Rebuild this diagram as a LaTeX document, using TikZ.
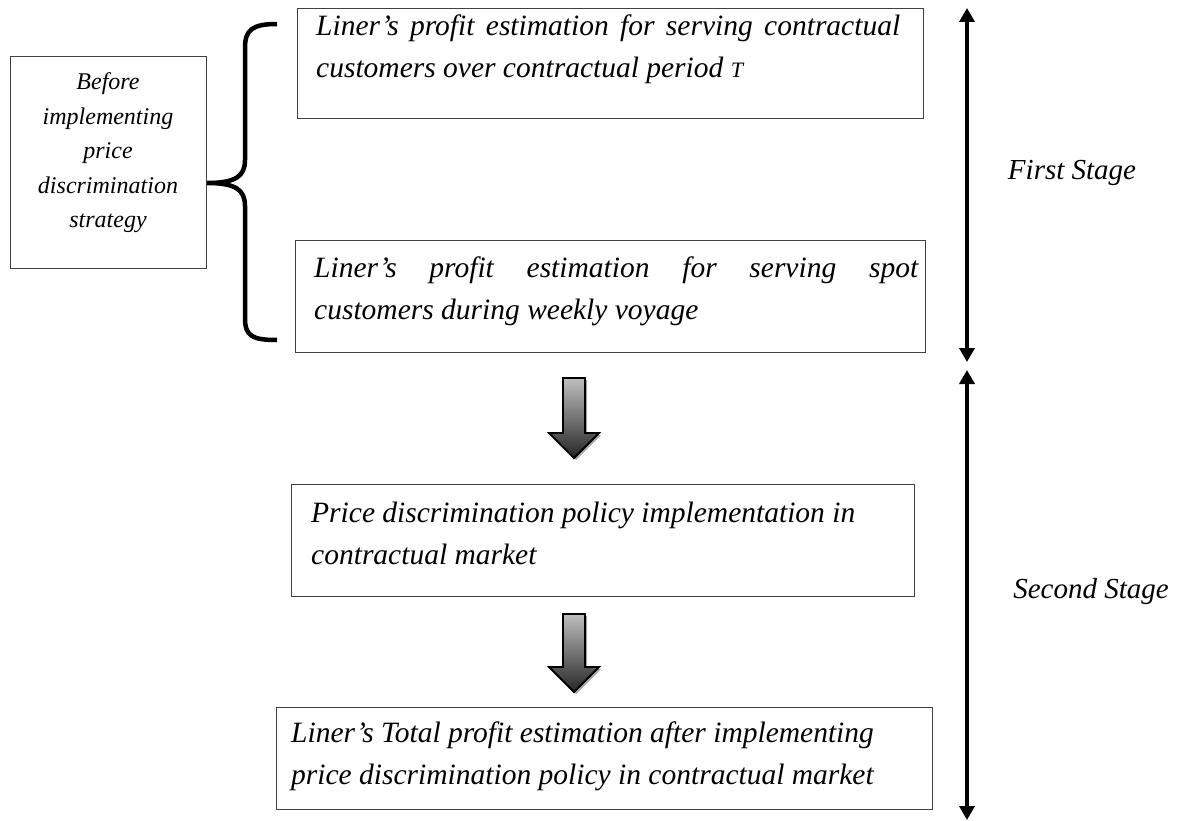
\documentclass[tikz,border=0pt]{standalone}
\usepackage{fontspec}
\setmainfont{Liberation Serif}
\usetikzlibrary{arrows.meta,shadows,calc}
\begin{document}
\begin{tikzpicture}[x=1pt,y=-1pt,
  box/.style={draw=black!75, line width=1.2pt, inner sep=0pt, anchor=north west},
  txt/.style={inner sep=0pt, anchor=north west, font=\fontsize{29.5}{42}\selectfont\itshape},
  blockarrow/.style={draw=black, line width=1.8pt, line join=miter, top color=black!25, bottom color=black!85,
    drop shadow={opacity=0.35, shadow xshift=2pt, shadow yshift=-2pt, fill=black}},
  stagearrow/.style={line width=4pt, {Triangle[width=15pt,length=14pt]}-{Triangle[width=15pt,length=14pt]}},
  stagelbl/.style={font=\fontsize{29}{34}\selectfont\itshape},
  brace/.style={line width=4.5pt},
]
\useasboundingbox (0,0) rectangle (1181,821);
% boxes
\node[box, minimum width=196pt, minimum height=212pt] (lb) at (10,56) {};
\node[box, minimum width=626pt, minimum height=110pt] (b1) at (297,8) {};
\node[box, minimum width=630pt, minimum height=112pt] (b2) at (295,240) {};
\node[box, minimum width=623pt, minimum height=112pt] (b3) at (291,484) {};
\node[box, minimum width=656pt, minimum height=102pt] (b4) at (276,707) {};
% texts
\node[font=\fontsize{24}{34.5}\selectfont\itshape, align=center] (lt) at (108,153)
  {Before\\implementing\\price\\discrimination\\strategy};
\node[txt] (t1) at (316,15) {\parbox{584pt}{Liner’s profit estimation for serving contractual\linebreak customers over contractual period {\fontsize{22}{22}\selectfont T}}};
\node[txt] (t2) at (314,257) {\parbox{604pt}{Liner’s profit estimation for serving spot\linebreak customers during weekly voyage}};
\node[txt] (t3) at (311,502) {\parbox{595pt}{Price discrimination policy implementation in\\ contractual market}};
\node[txt] (t4) at (291,722) {\parbox{635pt}{Liner’s Total profit estimation after implementing\\ price discrimination policy in contractual market}};
% brace
\coordinate (tip) at (207,183);
\draw[brace] (277,24) .. controls (252,24) and (245,30) .. (245,48) -- (245,160)
  .. controls (245,176) and (236,183) .. (tip)
  .. controls (236,183) and (245,190) .. (245,206) -- (245,318)
  .. controls (245,336) and (252,340) .. (277,340);
% block arrows
\draw[blockarrow] (563,378) -- (585,378) -- (585,433) -- (599,433) -- (574,458) -- (549,433) -- (563,433) -- cycle;
\draw[blockarrow] (563,614) -- (585,614) -- (585,667) -- (599,667) -- (574,692) -- (549,667) -- (563,667) -- cycle;
% stage arrows
\coordinate (a1t) at (967,8);
\coordinate (a1b) at (967,362);
\coordinate (a2t) at (967,370);
\coordinate (a2b) at (967,820);
\draw[stagearrow] (a1t) -- (a1b);
\draw[stagearrow] (a2t) -- (a2b);
\node[stagelbl] (s1) at (1072,173) {First Stage};
\node[stagelbl] (s2) at (1091,592) {Second Stage};
\end{tikzpicture}
\end{document}
